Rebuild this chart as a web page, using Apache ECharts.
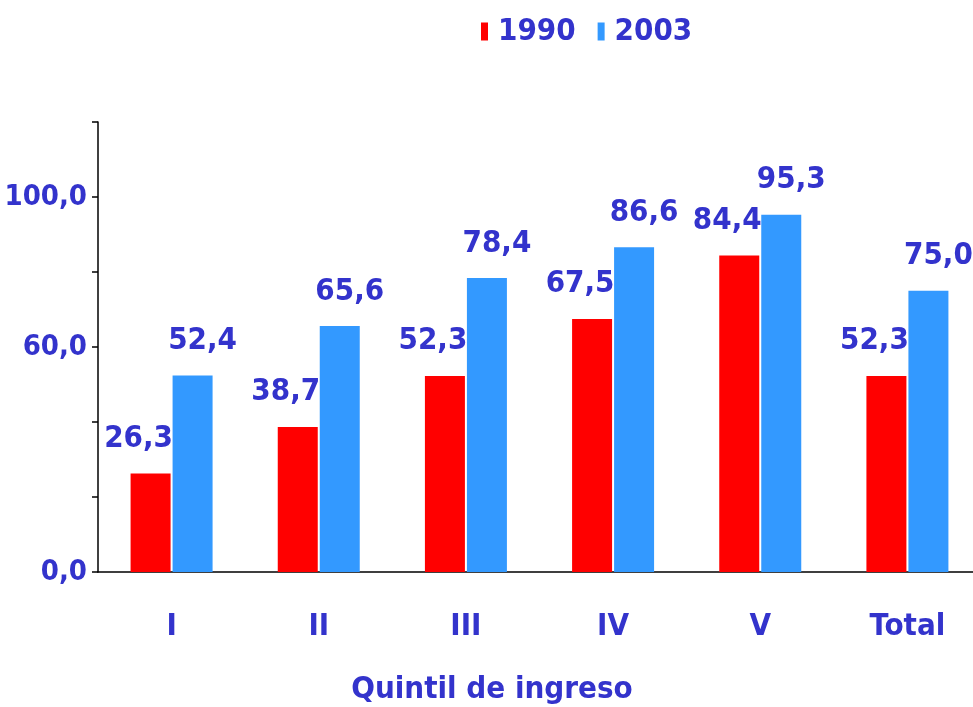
<!DOCTYPE html>
<html>
<head>
<meta charset="utf-8">
<script src="https://cdn.jsdelivr.net/npm/echarts@6/dist/echarts.min.js"></script>
<style>
  html, body { margin: 0; padding: 0; background: #fff; }
  #chart { width: 973px; height: 707px; }
</style>
</head>
<body>
<div id="chart"></div>
<script>
// datos
const categories = ['I', 'II', 'III', 'IV', 'V', 'Total'];
const values1990 = [26.3, 38.7, 52.3, 67.5, 84.4, 52.3];
const values2003 = [52.4, 65.6, 78.4, 86.6, 95.3, 75.0];
const yLabels = [0, 60, 100];

const FONT = '"DejaVu Sans Condensed", "DejaVu Sans", sans-serif';
const TXT = '#3333CC';
const FS = 31;

function fmt(v) {
    return v.toFixed(1).replace('.', ',');
}

let myChart = echarts.init(document.getElementById('chart'));
myChart.setOption({
    animation: false,
    textStyle: { fontFamily: FONT },
    legend: {
        left: 476,
        top: 11,
        icon: 'rect',
        itemWidth: 7,
        itemHeight: 18,
        itemGap: 22,
        textStyle: { color: TXT, fontSize: FS, fontWeight: 'bold', fontFamily: FONT, padding: [0, 0, 0, 5] },
        data: ['1990', '2003']
    },
    grid: { left: 98, top: 122, width: 883, height: 450, containLabel: false, outerBoundsMode: 'none' },
    xAxis: {
        type: 'category',
        data: categories,
        name: 'Quintil de ingreso',
        nameLocation: 'middle',
        nameGap: 102,
        nameTextStyle: { color: TXT, fontSize: FS, fontWeight: 'bold', fontFamily: FONT, padding: [0, 95, 0, 0] },
        axisLine: { lineStyle: { color: '#000', width: 1.5 } },
        axisTick: { length: 10, lineStyle: { color: '#000', width: 1.5 } },
        axisLabel: { color: TXT, fontSize: FS, fontWeight: 'bold', fontFamily: FONT, margin: 39 }
    },
    yAxis: {
        type: 'value',
        min: 0,
        max: 120,
        interval: 20,
        splitLine: { show: false },
        axisLine: { show: true, lineStyle: { color: '#000', width: 1.5 } },
        axisTick: { show: true, length: 6, lineStyle: { color: '#000', width: 1.5 } },
        axisLabel: {
            color: TXT, fontSize: 29, fontWeight: 'bold', fontFamily: FONT, margin: 11,
            formatter: function (v) { return yLabels.indexOf(v) >= 0 ? fmt(v) : ''; }
        }
    },
    series: [
        {
            name: '1990',
            type: 'bar',
            data: values1990,
            barWidth: 40,
            barGap: '5%',
            itemStyle: { color: '#FF0000' },
            label: {
                show: true, position: 'top', distance: 19, offset: [-12, 0],
                color: TXT, fontSize: FS, fontWeight: 'bold', fontFamily: FONT,
                formatter: function (p) { return fmt(p.value); }
            }
        },
        {
            name: '2003',
            type: 'bar',
            data: values2003,
            barWidth: 40,
            itemStyle: { color: '#3399FF' },
            label: {
                show: true, position: 'top', distance: 19, offset: [10, 0],
                color: TXT, fontSize: FS, fontWeight: 'bold', fontFamily: FONT,
                formatter: function (p) { return fmt(p.value); }
            }
        }
    ]
});
</script>
</body>
</html>
